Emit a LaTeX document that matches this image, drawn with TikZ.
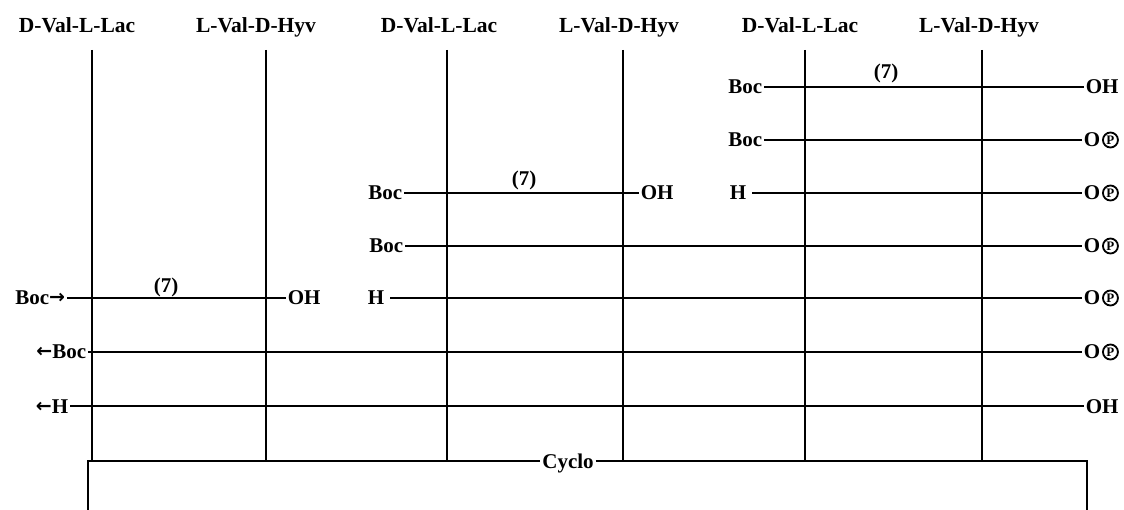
\documentclass[tikz,border=0pt]{standalone}
\usepackage{fontspec}
\setmainfont{Liberation Serif}
\newfontfamily\arrfont{DejaVu Sans}
\newcommand\rarr{\raisebox{1pt}{\arrfont\bfseries\fontsize{19}{19}\selectfont →}}
\newcommand\larr{\raisebox{1pt}{\arrfont\bfseries\fontsize{19}{19}\selectfont ←}}
\begin{document}
\begin{tikzpicture}[x=1pt,y=-1pt,line width=1.3pt,
  lab/.style={font=\fontsize{21}{21}\selectfont\bfseries,inner sep=1.2pt,text height=14pt,text depth=0pt},
  head/.style={font=\fontsize{21.5}{21.5}\selectfont\bfseries,inner sep=0pt,anchor=base},
  cp/.style={circle,draw,line width=1.8pt,minimum size=15pt,inner sep=0pt,font=\fontsize{13}{13}\selectfont\bfseries}]
\useasboundingbox (0,0) rectangle (1124,510);
% headers
\node[head] (h1) at (77,33) {D-Val-L-Lac};
\node[head] (h2) at (256,33) {L-Val-D-Hyv};
\node[head] (h3) at (439,33) {D-Val-L-Lac};
\node[head] (h4) at (619,33) {L-Val-D-Hyv};
\node[head] (h5) at (800,33) {D-Val-L-Lac};
\node[head] (h6) at (979,33) {L-Val-D-Hyv};
% vertical lines
\foreach \i/\x in {1/92,2/266,3/447,4/623,5/805,6/982}{
  \coordinate (v\i t) at (\x,50);
  \coordinate (v\i b) at (\x,461);
  \draw (v\i t) -- (v\i b);
}
% cyclo box
\node[lab] (cyc) at (568,461) {Cyclo};
\coordinate (btl) at (88,461);
\coordinate (btr) at (1087,461);
\coordinate (bbl) at (88,515);
\coordinate (bbr) at (1087,515);
\draw (bbl) -- (btl) -- (cyc.west);
\draw (cyc.east) -- (btr) -- (bbr);
% right-hand labels
\node[lab,anchor=west] (r1) at (1084,87) {OH};
\node[lab,anchor=west] (r2) at (1082,140) {O};
\node[cp,anchor=west] at (r2.east) {P};
\node[lab,anchor=west] (r3) at (1082,193) {O};
\node[cp,anchor=west] at (r3.east) {P};
\node[lab,anchor=west] (r4) at (1082,246) {O};
\node[cp,anchor=west] at (r4.east) {P};
\node[lab,anchor=west] (r5) at (1082,298) {O};
\node[cp,anchor=west] at (r5.east) {P};
\node[lab,anchor=west] (r6) at (1082,352) {O};
\node[cp,anchor=west] at (r6.east) {P};
\node[lab,anchor=west] (r7) at (1084,406) {OH};
% group 3
\node[lab,anchor=east] (l1) at (764,87) {Boc};
\node[lab] (s3) at (886,72) {(7)};
\node[lab,anchor=east] (l2) at (764,140) {Boc};
\node[lab,anchor=west] (l3) at (728,193) {H};
\coordinate (l3e) at (752,193);
\draw (l1) -- (r1);
\draw (l2) -- (r2);
\draw (l3e) -- (r3);
% group 2
\node[lab,anchor=east] (m1) at (404,193) {Boc};
\node[lab] (s2) at (524,179) {(7)};
\node[lab,anchor=west] (m1r) at (639,193) {OH};
\node[lab,anchor=east] (m2) at (405,246) {Boc};
\node[lab,anchor=west] (m3) at (366,298) {H};
\coordinate (m3e) at (390,298);
\draw (m1) -- (m1r);
\draw (m2) -- (r4);
\draw (m3e) -- (r5);
% group 1
\node[lab,anchor=east] (g1) at (67,298) {Boc\rarr};
\node[lab] (s1) at (166,286) {(7)};
\node[lab,anchor=west] (g1r) at (286,298) {OH};
\node[lab,anchor=east] (g2) at (88,352) {\larr Boc};
\node[lab,anchor=east] (g3) at (70,406) {\larr H};
\draw (g1) -- (g1r);
\draw (g2) -- (r6);
\draw (g3) -- (r7);
\end{tikzpicture}
\end{document}
